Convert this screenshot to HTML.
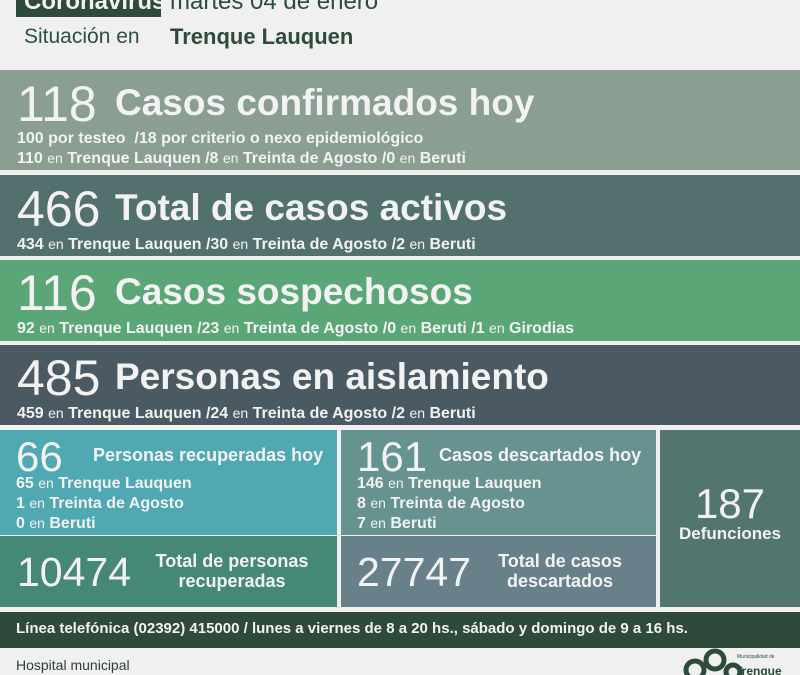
<!DOCTYPE html><html><head><meta charset="utf-8"><style>
body{margin:0;width:800px;height:675px;overflow:hidden;background:#f0f0f0;font-family:"Liberation Sans",sans-serif;position:relative}
div{position:absolute;box-sizing:border-box}
.w{color:#f2f2f2}
.n{font-size:50px;font-weight:normal;line-height:1}
.t{font-size:37px;font-weight:bold;line-height:1}
.s{font-size:16px;font-weight:bold;line-height:1;white-space:nowrap}
.s i{font-style:normal;font-weight:normal;font-size:14px}
</style></head><body>
<div style="left:16px;top:0;width:145px;height:17px;background:#2d4a3a;overflow:hidden"><span style="position:absolute;left:8px;top:-12px;font-size:24px;font-weight:bold;color:#f0f0f0">Coronavirus</span></div>
<div style="left:170px;top:-12px;font-size:24px;color:#2d4a3a;white-space:nowrap">martes 04 de enero</div>
<div style="left:24px;top:25px;font-size:21px;color:#2f4f44;white-space:nowrap">Situación en</div>
<div style="left:170px;top:24px;font-size:22px;font-weight:bold;color:#2d4a3a;white-space:nowrap">Trenque Lauquen</div>

<div style="left:0;top:70px;width:800px;height:100px;background:#8a9e92"></div>
<div class="w n" style="left:17px;top:79px">118</div>
<div class="w t" style="left:115px;top:84px;white-space:nowrap">Casos confirmados hoy</div>
<div class="w s" style="left:17px;top:131px">100 por testeo &nbsp;/18 por criterio o nexo epidemiológico</div>
<div class="w s" style="left:17px;top:151px">110 <i>en</i> Trenque Lauquen /8 <i>en</i> Treinta de Agosto /0 <i>en</i> Beruti</div>

<div style="left:0;top:175px;width:800px;height:81px;background:#52716e"></div>
<div class="w n" style="left:17px;top:184px">466</div>
<div class="w t" style="left:115px;top:189px;white-space:nowrap">Total de casos activos</div>
<div class="w s" style="left:17px;top:237px">434 <i>en</i> Trenque Lauquen /30 <i>en</i> Treinta de Agosto /2 <i>en</i> Beruti</div>

<div style="left:0;top:260px;width:800px;height:81px;background:#5ba676"></div>
<div class="w n" style="left:17px;top:268px">116</div>
<div class="w t" style="left:115px;top:273px;white-space:nowrap">Casos sospechosos</div>
<div class="w s" style="left:17px;top:321px">92 <i>en</i> Trenque Lauquen /23 <i>en</i> Treinta de Agosto /0 <i>en</i> Beruti /1 <i>en</i> Girodias</div>

<div style="left:0;top:345px;width:800px;height:80px;background:#4b5a62"></div>
<div class="w n" style="left:17px;top:353px">485</div>
<div class="w t" style="left:115px;top:358px;white-space:nowrap">Personas en aislamiento</div>
<div class="w s" style="left:17px;top:406px">459 <i>en</i> Trenque Lauquen /24 <i>en</i> Treinta de Agosto /2 <i>en</i> Beruti</div>

<div style="left:0;top:430px;width:337px;height:105px;background:#4fa8b2"></div>
<div style="left:0;top:536px;width:337px;height:71px;background:#468878"></div>
<div style="left:341px;top:430px;width:315px;height:105px;background:#66938f"></div>
<div style="left:341px;top:536px;width:315px;height:71px;background:#68808a"></div>
<div style="left:660px;top:430px;width:140px;height:177px;background:#52766f"></div>

<div class="w" style="left:16px;top:433px;font-size:42px">66</div>
<div class="w" style="left:93px;top:445px;font-size:18px;font-weight:bold;white-space:nowrap">Personas recuperadas hoy</div>
<div class="w s" style="left:16px;top:476px">65 <i>en</i> Trenque Lauquen</div>
<div class="w s" style="left:16px;top:496px">1 <i>en</i> Treinta de Agosto</div>
<div class="w s" style="left:16px;top:516px">0 <i>en</i> Beruti</div>
<div class="w" style="left:17px;top:549px;font-size:41px">10474</div>
<div class="w" style="left:150px;top:551px;width:164px;text-align:center;font-size:18px;font-weight:bold;line-height:20px">Total de personas recuperadas</div>

<div class="w" style="left:357px;top:433px;font-size:42px">161</div>
<div class="w" style="left:439px;top:445px;font-size:18px;font-weight:bold;white-space:nowrap">Casos descartados hoy</div>
<div class="w s" style="left:357px;top:476px">146 <i>en</i> Trenque Lauquen</div>
<div class="w s" style="left:357px;top:496px">8 <i>en</i> Treinta de Agosto</div>
<div class="w s" style="left:357px;top:516px">7 <i>en</i> Beruti</div>
<div class="w" style="left:357px;top:549px;font-size:41px">27747</div>
<div class="w" style="left:490px;top:551px;width:140px;text-align:center;font-size:18px;font-weight:bold;line-height:20px">Total de casos descartados</div>

<div class="w" style="left:660px;top:480px;width:140px;text-align:center;font-size:42px">187</div>
<div class="w" style="left:660px;top:524px;width:140px;text-align:center;font-size:17px;font-weight:bold">Defunciones</div>

<div style="left:0;top:612px;width:800px;height:36px;background:#2d4a3a"></div>
<div class="w" style="left:16px;top:620px;font-size:15px;font-weight:bold;white-space:nowrap">Línea telefónica (02392) 415000 / lunes a viernes de 8 a 20 hs., sábado y domingo de 9 a 16 hs.</div>
<div style="left:16px;top:657px;font-size:14px;color:#2f3f3a">Hospital municipal</div>
<svg style="position:absolute;left:683px;top:648px" width="117" height="27"><circle cx="12" cy="22" r="9" fill="none" stroke="#2d4a3a" stroke-width="5"/><circle cx="32" cy="12" r="9" fill="none" stroke="#2d4a3a" stroke-width="5"/><circle cx="50" cy="24" r="7" fill="none" stroke="#2d4a3a" stroke-width="5"/><text x="54" y="10" font-size="5" font-family="Liberation Sans" fill="#2d4a3a">Municipalidad de</text><text x="52" y="27" font-size="12" font-weight="bold" font-family="Liberation Sans" fill="#2d4a3a">Trenque</text></svg>
</body></html>
